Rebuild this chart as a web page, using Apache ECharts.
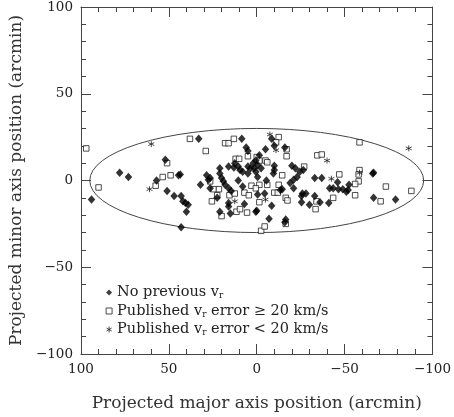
<!DOCTYPE html>
<html>
<head>
<meta charset="utf-8">
<script src="https://cdn.jsdelivr.net/npm/echarts@6/dist/echarts.min.js"></script>
<style>
  html, body { margin: 0; padding: 0; background: #fff; }
  #chart { width: 454px; height: 417px; }
</style>
</head>
<body>
<div id="chart"></div>
<script>
// axis ticks
const xTicks = [100, 50, 0, -50, -100]
const yTicks = [-100, -50, 0, 50, 100]

// ellipse: centre and semi-axes (arcmin)
const ellCentre = [0, 0]
const ellAxes = [95, 30]

// filled diamonds: no previous vr
const noPrev = [
  [94, -11], [78, 4.5], [73, 2], [57, 0], [52, 12], [51, -6], [47, -9], [44.5, 3], [43.5, 3.5],
  [43, -9], [42, -12], [40.5, -13], [39, -14], [40, -18], [43, -27], [33, 24], [32, -2.5],
  [28.5, 3], [26.5, 1.5], [26.5, -4.5], [27.5, 0.5], [22.5, -10], [21, -18], [16, -15], [15, -19],
  [8.5, 24], [6, 19], [5, 17], [0.5, -18], [16, 8], [21, 4], [20, 1.5], [19, -0.5], [18, -2.5],
  [16, -4.5], [14.5, -6], [12.5, 10], [10.5, 8], [9.5, 6], [8, 5], [5, 4], [2, 10], [3.5, 7],
  [10.5, 0], [16, -13], [7, -13.5], [21, 7], [13, 7.5], [5, 8], [0.5, 11.5], [1.5, 7], [0.5, 5],
  [-0.5, 2], [-5.5, 0], [8, -3.5],
  [-8.5, 24], [-5, 18], [-10, 20], [-16, 19], [-1.5, 14.5], [-0.5, 9], [-2.5, 7], [-10, 8.5],
  [-10, 6], [-9.5, 4], [-20, 8.5], [-22, 7], [-24.5, 5], [-23, 2], [-21, 0.5], [-19, -1.5],
  [-21, -4.5], [-26.5, 6], [-0.5, -8], [-4.5, -7.5], [-13.5, -5.5], [-14.5, -5], [-26, -7.5],
  [-28, -7.5], [-25.5, -9], [-33, -9], [-25.5, -12.5], [-30, -14], [-36, -12.5], [-41, -13],
  [-33, 1.5], [-37, 1.5], [-46, -1], [-41.5, -4.5], [-43.5, -4.5], [-46.5, -5], [-49, -5],
  [-52, -5.5], [-52.5, -2.5], [-51, -6.5], [0, -17.5], [-8.5, -14.5], [-7, -22], [-16.5, -22.5],
  [-16, -24], [-66, 4], [-66.5, 4.5], [-66.5, -10], [-79, -11]
]

// open squares: published vr error >= 20 km/s
const errBig = [
  [97, 18.5], [90, -4], [57.5, -3], [53.5, 2], [49, 3], [51, 10], [38, 24], [29, 17], [18, 21.5],
  [16, 21.5], [13, 24], [12, 12.5], [10, 12.5], [5, 14], [26.5, -0.5], [24.5, -5], [21.5, -5],
  [22.5, -8.5], [25.5, -12], [15.5, -8.5], [12.5, -7.5], [7, -7], [4.5, -8.5], [3, -3], [20, -20.5],
  [11.5, -18], [9.5, -16.5], [5.5, -18.5], [-2.5, -29], [-4.5, -26.5], [-12.5, 25], [-11, 22],
  [-17, 18], [-17, 14], [0, 13.5], [-5, 11.5], [-6, 10.5], [-1.5, 11.5], [-14.5, 3], [-6, -2.5],
  [-1.5, -2.5], [0.5, -4.5], [-1.5, -12.5], [-10, -7], [-12, -7], [-12.5, -2.5], [-16.5, -10],
  [-17.5, -11.5], [-34, -12], [-33.5, -16.5], [-27, 8], [-16.5, -25], [-47, 3.5], [-34.5, 14.5],
  [-37, 15], [-58.5, 22], [-58.5, 6], [-58, 3.5], [-58, -0.5], [-56, -2], [-56, -8.5],
  [-73.5, -3.5], [-88, -6], [-70.5, -12], [-43.5, -10]
]

// asterisks: published vr error < 20 km/s
const errSmall = [
  [60, 21], [61, -5], [-7.5, 26.5], [-11, 17.5], [12.5, -12], [-5, -11], [-42.5, 1],
  [-40, 11.5], [-58.5, 4.5], [-86.5, 18.5]
]

const serif = 'DejaVu Serif'
const ink = '#222'
const minus = v => String(v).replace('-', '\u2212')
const starPath = 'path://M5,0 L5,10 M0.7,2.5 L9.3,7.5 M0.7,7.5 L9.3,2.5'
const names = ['No previous vr', 'Published vr error \u2265 20 km/s', 'Published vr error < 20 km/s']

const frameAxis = {
  type: 'value',
  min: -100,
  max: 100,
  interval: 50,
  axisLine: { onZero: false, lineStyle: { color: '#444', width: 1 } },
  axisTick: { inside: true, length: 10, lineStyle: { color: '#444' } },
  minorTick: { show: true, splitNumber: 5, length: 5, lineStyle: { color: '#444' } },
  splitLine: { show: false },
  axisLabel: { show: false }
}

const chart = echarts.init(document.getElementById('chart'))
chart.setOption({
  animation: false,
  grid: { left: 76, right: 21, top: 6, bottom: 55 },
  xAxis: [
    Object.assign({}, frameAxis, {
      inverse: true,
      position: 'bottom',
      name: 'Projected major axis position (arcmin)',
      nameLocation: 'middle',
      nameGap: 41,
      nameTextStyle: { fontFamily: serif, fontSize: 17, color: '#333' },
      axisLabel: {
        show: true, margin: 8, fontFamily: serif, fontSize: 13.5, color: ink,
        formatter: v => xTicks.indexOf(v) >= 0 ? minus(v) : ''
      }
    }),
    Object.assign({}, frameAxis, { inverse: true, position: 'top' })
  ],
  yAxis: [
    Object.assign({}, frameAxis, {
      position: 'left',
      name: 'Projected minor axis position (arcmin)',
      nameLocation: 'middle',
      nameGap: 40,
      nameTextStyle: { fontFamily: serif, fontSize: 17, color: '#333' },
      axisLabel: {
        show: true, margin: 8, fontFamily: serif, fontSize: 13.5, color: ink,
        formatter: v => yTicks.indexOf(v) >= 0 ? minus(v) : ''
      }
    }),
    Object.assign({}, frameAxis, { position: 'right' })
  ],
  legend: {
    orient: 'vertical',
    left: 104,
    top: 285,
    padding: 0,
    itemGap: 3,
    itemWidth: 6,
    itemHeight: 6,
    selectedMode: false,
    data: [
      { name: names[0], icon: 'diamond', itemStyle: { color: '#111' } },
      { name: names[1], icon: 'rect', itemStyle: { color: '#fff', borderColor: '#222', borderWidth: 1 } },
      { name: names[2], icon: starPath, itemStyle: { color: 'none', borderColor: '#222', borderWidth: 1 } }
    ],
    formatter: name => name.replace('vr', 'v{s|r}'),
    textStyle: {
      fontFamily: serif, fontSize: 14.5, color: ink, lineHeight: 14,
      rich: { s: { fontFamily: serif, fontSize: 9, color: ink, padding: [7, 0, 0, 0] } }
    }
  },
  series: [
    {
      type: 'custom',
      silent: true,
      data: [ellCentre],
      renderItem: (params, api) => {
        const c = api.coord(ellCentre)
        const s = api.size(ellAxes)
        const rx = s[0], ry = s[1]
        const d = 'M' + (c[0] - rx) + ',' + c[1] +
          ' A' + rx + ',' + ry + ' 0 1 0 ' + (c[0] + rx) + ',' + c[1] +
          ' A' + rx + ',' + ry + ' 0 1 0 ' + (c[0] - rx) + ',' + c[1] + ' Z'
        return { type: 'path', shape: { pathData: d }, style: { fill: 'none', stroke: '#444', lineWidth: 1 } }
      },
      z: 1
    },
    {
      name: names[0],
      type: 'scatter',
      data: noPrev,
      symbol: 'diamond',
      symbolSize: [7.5, 8.5],
      itemStyle: { color: '#000' },
      z: 3
    },
    {
      name: names[1],
      type: 'scatter',
      data: errBig,
      symbol: 'rect',
      symbolSize: 5.5,
      itemStyle: { color: '#fff', borderColor: '#222', borderWidth: 1 },
      z: 2
    },
    {
      name: names[2],
      type: 'scatter',
      data: errSmall,
      symbol: starPath,
      symbolSize: 6,
      itemStyle: { color: 'none', borderColor: '#222', borderWidth: 1 },
      z: 4
    }
  ]
})
</script>
</body>
</html>
